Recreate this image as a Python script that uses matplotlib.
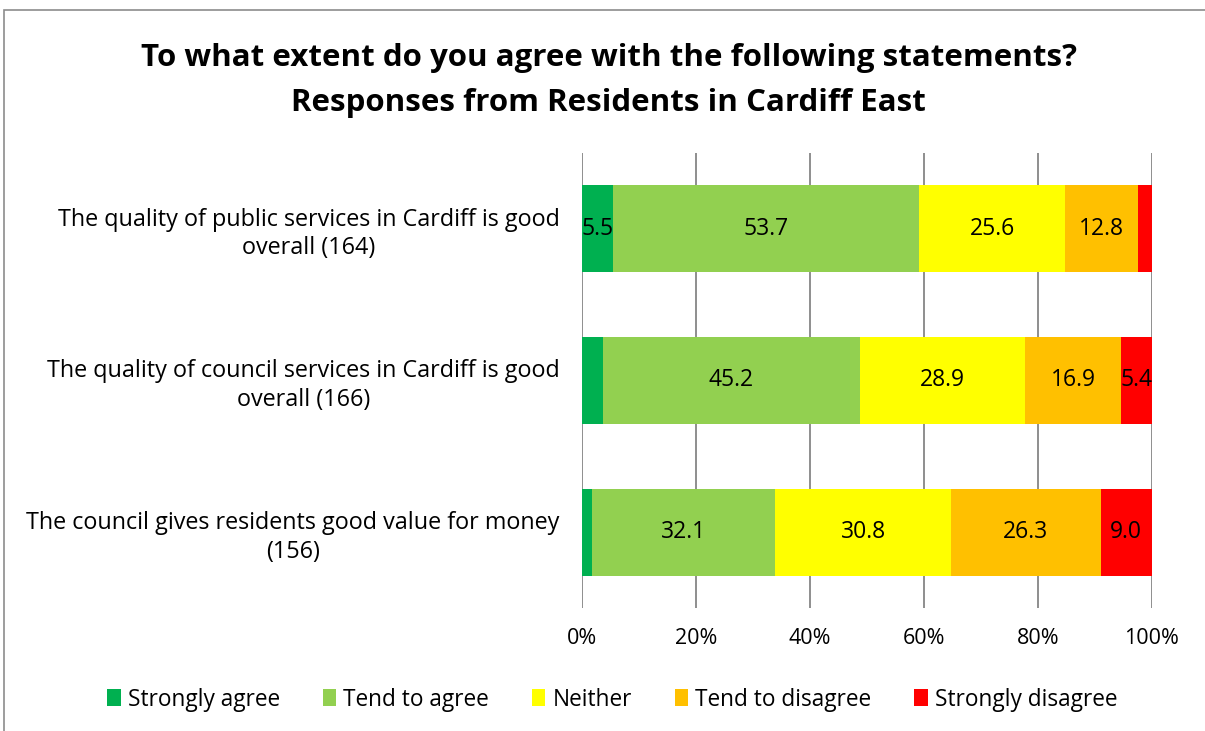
import numpy as np
import matplotlib.pyplot as plt
from matplotlib.patches import Rectangle

plt.rcParams['font.family'] = ['Open Sans', 'DejaVu Sans']

statements = ["The quality of public services in Cardiff is good\noverall (164)",
              "The quality of council services in Cardiff is good\noverall (166)",
              "The council gives residents good value for money\n(156)"]
responses = ["Strongly agree", "Tend to agree", "Neither", "Tend to disagree", "Strongly disagree"]
strongly_agree = [5.5, 3.6, 1.8]
tend_agree = [53.7, 45.2, 32.1]
neither = [25.6, 28.9, 30.8]
tend_disagree = [12.8, 16.9, 26.3]
strongly_disagree = [2.4, 5.4, 9.0]
colours = ["#00B050", "#92D050", "#FFFF00", "#FFC000", "#FF0000"]

series = [strongly_agree, tend_agree, neither, tend_disagree, strongly_disagree]

fig = plt.figure(figsize=(12.05, 7.31), dpi=100)
ax = fig.add_axes([0.483, 0.168, 0.473, 0.623])

# light frame round the chart area
fig.patches.append(Rectangle((0.003, -0.01), 1.2, 0.996, transform=fig.transFigure,
                             fill=False, edgecolor="#8c8c8c", linewidth=1.2))

ypos = np.arange(len(statements))[::-1]
left = np.zeros(len(statements))
for vals, name, col in zip(series, responses, colours):
    vals = np.array(vals)
    ax.barh(ypos, vals, left=left, height=0.57, color=col, label=name, zorder=3)
    for y, l, v in zip(ypos, left, vals):
        if v >= 5:
            ax.text(l + v / 2, y, f"{v:.1f}", ha="center", va="center", fontsize=16.5, zorder=4)
    left += vals

ax.set_xlim(0, 100)
ax.set_ylim(-0.5, 2.5)
ax.set_xticks(np.arange(0, 101, 20))
ax.set_xticklabels([f"{t}%" for t in range(0, 101, 20)], fontsize=15.5)
ax.set_yticks(ypos)
ax.set_yticklabels(statements, fontsize=16.8, multialignment="center", linespacing=1.25)
ax.tick_params(axis="both", length=0)
ax.tick_params(axis="y", pad=16)
ax.tick_params(axis="x", pad=14)
ax.grid(axis="x", color="#868686", linewidth=1.3, zorder=0)
for s in ax.spines.values():
    s.set_visible(False)

fig.text(0.505, 0.89, "To what extent do you agree with the following statements?\nResponses from Residents in Cardiff East",
         ha="center", va="center", fontsize=22.5, fontweight="bold", linespacing=1.65)

fig.legend(loc="center", bbox_to_anchor=(0.508, 0.043), ncol=5, frameon=False, fontsize=16.3,
           handlelength=0.6, handleheight=0.8, handletextpad=0.3, columnspacing=1.9)

fig.savefig("out.png", dpi=100)
